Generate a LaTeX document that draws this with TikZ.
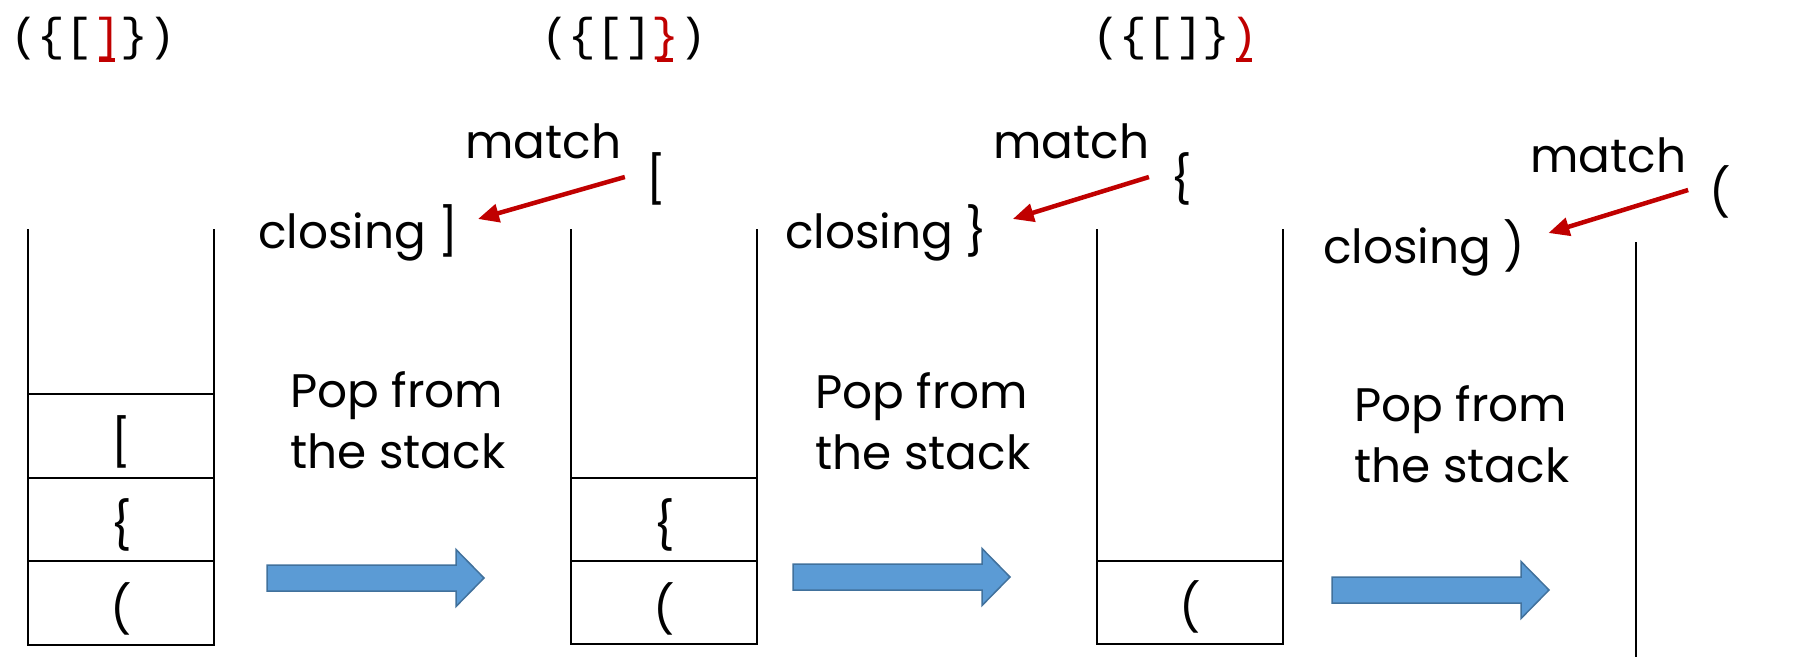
\documentclass[tikz,border=0pt]{standalone}
\usepackage{fontspec}
\setmainfont{Poppins}
\newfontfamily\codefont{Liberation Mono}
\usetikzlibrary{arrows.meta,calc}
\definecolor{matchred}{RGB}{192,0,0}
\definecolor{popfill}{RGB}{91,155,213}
\definecolor{popedge}{RGB}{65,113,156}
% current closing bracket, red and underlined
\newcommand{\cur}[1]{\textcolor{matchred}{\rlap{\hspace{0.125em}\rule[-0.26em]{0.35em}{0.08em}}#1}}

\begin{document}
\begin{tikzpicture}[x=1pt,y=-1pt,
		every node/.style={inner sep=0pt,font=\fontsize{47}{61}\selectfont},
		code/.style={anchor=base west,font=\codefont\fontsize{46}{46}\selectfont},
		stackline/.style={line width=2pt},
		matcharrow/.style={draw=matchred,line width=4.5pt,-{Triangle[length=21pt,width=18pt]}},
		poparrow/.style={fill=popfill,draw=popedge,line width=1.5pt}]
	\useasboundingbox (0,0) rectangle (1811,656);

	\node[code] (str1) at (10,50) {(\{[\cur{]}\})};
	\node[code] (str2) at (541,50) {(\{[]\cur{\}})};
	\node[code] (str3) at (1092,50) {(\{[]\}\cur{)}};

	% stacks
	\draw[stackline] (28,229) -- (28,645) -- (214,645) -- (214,229);
	\draw[stackline] (28,394) -- (214,394) (28,478) -- (214,478) (28,561) -- (214,561);
	\node (s1c) at (121,442) {[};
	\node (s1b) at (121,525) {\{};
	\node (s1a) at (121,609) {(};

	\draw[stackline] (571,229) -- (571,644) -- (757,644) -- (757,229);
	\draw[stackline] (571,478) -- (757,478) (571,561) -- (757,561);
	\node (s2b) at (664,525) {\{};
	\node (s2a) at (664,609) {(};

	\draw[stackline] (1097,229) -- (1097,644) -- (1283,644) -- (1283,229);
	\draw[stackline] (1097,561) -- (1283,561);
	\node (s3a) at (1190,607) {(};

	\draw[stackline] (1636,242) -- (1636,660);

	% popped bracket and its match
	\node[anchor=base west] (match1) at (465,158) {match};
	\node[anchor=base west] (close1) at (258,248) {closing ]};
	\node (open1) at (656,179) {[};
	\draw[matcharrow] ($(open1.west)+(-21,-2)$) -- ($(close1.base east)+(19,-29)$);

	\node[anchor=base west] (match2) at (993,158) {match};
	\node[anchor=base west] (close2) at (785,248) {closing \}};
	\node (open2) at (1181,179) {\{};
	\draw[matcharrow] ($(open2.west)+(-21,-2)$) -- ($(close2.base east)+(25,-29)$);

	\node[anchor=base west] (match3) at (1530,172) {match};
	\node[anchor=base west] (close3) at (1323,263) {closing )};
	\node (open3) at (1720,192) {(};
	\draw[matcharrow] ($(open3.west)+(-21,-2)$) -- ($(close3.base east)+(23,-30)$);

	% base of a two-line node is its last line
	\node[anchor=base west,align=left] (pop1) at (290,468) {Pop from\\the stack};
	\node[anchor=base west,align=left] (pop2) at (815,469) {Pop from\\the stack};
	\node[anchor=base west,align=left] (pop3) at (1354,482) {Pop from\\the stack};

	\foreach \x/\y in {267/578, 793/577, 1332/590}
		\draw[poparrow] (\x,\y-13) -- ++(189,0) -- ++(0,-15.5) -- ++(28,28.5)
			-- ++(-28,28.5) -- ++(0,-15.5) -- ++(-189,0) -- cycle;
\end{tikzpicture}
\end{document}
